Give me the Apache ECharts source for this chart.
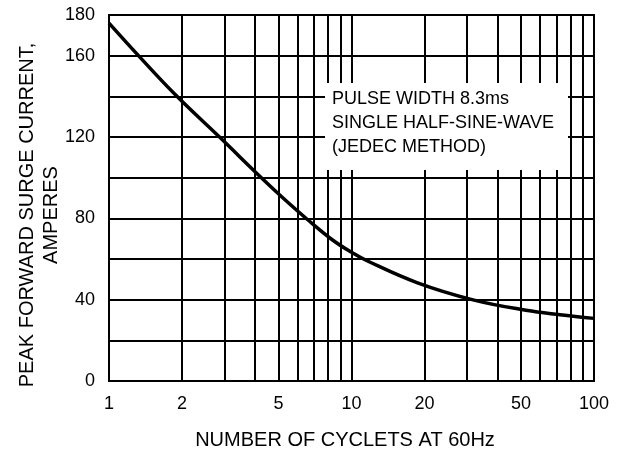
<!DOCTYPE html>
<html>
<head>
<meta charset="utf-8">
<script src="https://cdn.jsdelivr.net/npm/echarts@6/dist/echarts.min.js"></script>
<style>
html,body{margin:0;padding:0;background:#fff;}
#chart{width:627px;height:455px;}
</style>
</head>
<body>
<div id="chart"></div>
<script>
// Data
var cycles = [1, 1.3, 1.87, 2.87, 4.27, 5.22, 6.6, 8.3, 10, 11.7, 18.6, 31.7, 52.4, 72.4, 100];
var current = [176, 161, 141, 119.7, 99.7, 90, 79.3, 69.6, 63.3, 58.9, 48.4, 39.9, 34.8, 32.6, 30.8];
var xTickLabels = [1, 2, 5, 10, 20, 50, 100];
var xMinorGrid = [2, 3, 4, 5, 6, 7, 8, 9, 20, 30, 40, 50, 60, 70, 80, 90];
var yTickLabels = [0, 40, 80, 120, 160, 180];
var noteLines = ['PULSE WIDTH 8.3ms', 'SINGLE HALF-SINE-WAVE', '(JEDEC METHOD)'];
var xTitle = 'NUMBER OF CYCLETS AT 60Hz';
var yTitle = ['PEAK FORWARD SURGE CURRENT,', 'AMPERES'];

var FONT = 'Liberation Sans, Arial, sans-serif';
var chart = echarts.init(document.getElementById('chart'));

var lineData = cycles.map(function (c, i) { return [c, current[i]]; });

chart.setOption({
  animation: false,
  backgroundColor: '#fff',
  grid: { left: 109, right: 33, top: 15, bottom: 70, show: true, borderColor: '#000', borderWidth: 2, backgroundColor: 'transparent' },
  xAxis: {
    type: 'log', logBase: 10, min: 1, max: 100,
    name: xTitle, nameLocation: 'middle', nameGap: 49,
    nameTextStyle: { fontFamily: FONT, fontSize: 20, color: '#000', padding: [0, 13, 0, 0] },
    axisLine: { show: true, lineStyle: { color: '#000', width: 2 } },
    axisTick: { show: false },
    minorTick: { show: false },
    splitLine: { show: true, lineStyle: { color: '#000', width: 2 } },
    axisLabel: { customValues: xTickLabels, fontFamily: FONT, fontSize: 18, color: '#000', margin: 14 }
  },
  yAxis: {
    type: 'value', min: 0, max: 180, interval: 20,
    axisLine: { show: true, lineStyle: { color: '#000', width: 2 } },
    axisTick: { show: false },
    splitLine: { show: true, lineStyle: { color: '#000', width: 2 } },
    axisLabel: {
      fontFamily: FONT, fontSize: 18, color: '#000', margin: 14,
      formatter: function (v) { return yTickLabels.indexOf(v) >= 0 ? String(v) : ''; }
    }
  },
  graphic: [
    { type: 'rect', z: 50, shape: { x: 325, y: 83, width: 243, height: 87 }, style: { fill: '#fff' } },
    { type: 'text', z: 51, x: 332, y: 99, style: { text: noteLines[0], font: '18px ' + FONT, fill: '#000', verticalAlign: 'middle' } },
    { type: 'text', z: 51, x: 332, y: 123, style: { text: noteLines[1], font: '18px ' + FONT, fill: '#000', verticalAlign: 'middle' } },
    { type: 'text', z: 51, x: 332, y: 147, style: { text: noteLines[2], font: '18px ' + FONT, fill: '#000', verticalAlign: 'middle' } },
    { type: 'text', z: 51, x: 39, y: 215, rotation: Math.PI / 2,
      style: { text: yTitle.join('\n'), font: '20px ' + FONT, fill: '#000', align: 'center', verticalAlign: 'middle', lineHeight: 24 } }
  ],
  series: [{
    type: 'line', smooth: 0.4, showSymbol: false, z: 10,
    data: lineData,
    lineStyle: { color: '#000', width: 3.5 },
    markLine: {
      silent: true, symbol: 'none', label: { show: false }, animation: false,
      lineStyle: { color: '#000', width: 2, type: 'solid' },
      data: xMinorGrid.map(function (v) { return { xAxis: v }; })
    }
  }]
});
</script>
</body>
</html>
